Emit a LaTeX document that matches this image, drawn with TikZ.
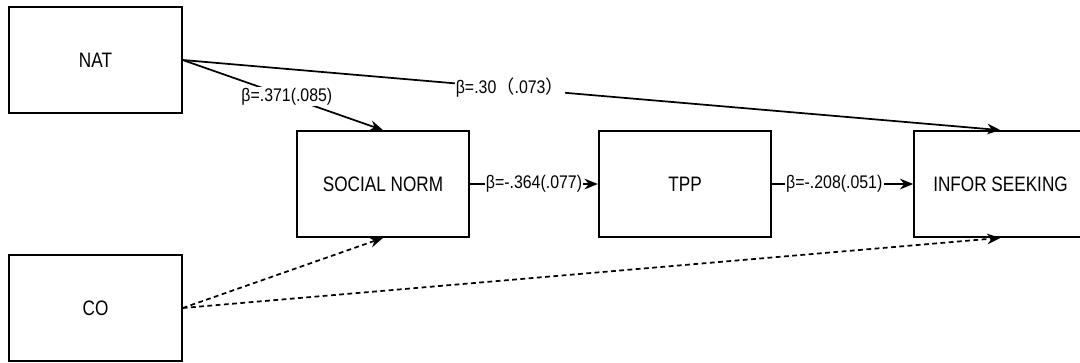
\documentclass[tikz,border=0pt]{standalone}
\usepackage{fontspec}
\setmainfont{Liberation Sans}
\newfontfamily\boxfont{Liberation Sans}[FakeStretch=0.82]
\newfontfamily\lblfont{Liberation Sans}[FakeStretch=0.87]
\newfontfamily\cjk{Noto Sans CJK SC}
\usetikzlibrary{arrows.meta}
\tikzset{
  var/.style={draw, line width=1.3pt, minimum width=129.5pt, minimum height=79.5pt,
    inner sep=0pt, font=\boxfont\fontsize{15.7}{18}\selectfont},
  path/.style={line width=1.3pt, -{Stealth[length=10pt,width=8pt]}},
  covar/.style={path, dash pattern=on 3.6pt off 2.6pt},
  coef/.style={fill=white, inner sep=1pt, font=\lblfont\fontsize{13.7}{15}\selectfont}
}
\begin{document}
\begin{tikzpicture}[x=0.75pt, y=-0.75pt]
  \clip (0,0) rectangle (1080,362);
  \fill[white] (0,0) rectangle (1080,362);

  \node[var] (nat) at (95.5,60) {NAT};
  \node[var] (co) at (95.5,308) {CO};
  \node[var] (sn) at (383,184) {SOCIAL NORM};
  \node[var] (tpp) at (685,184) {TPP};
  \node[var] (info) at (1000.5,184) {INFOR SEEKING};

  \draw[path] (nat.east) -- node[coef, pos=0.52] {β=.371(.085)} (sn.north);
  \draw[path] (nat.east) -- node[coef, pos=0.4] {β=.30{\cjk （}.073{\cjk ）}} (info.north);
  \draw[path] (sn.east) -- node[coef, pos=0.5] {β=-.364(.077)} (tpp.west);
  \draw[path] (tpp.east) -- node[coef, pos=0.44] {β=-.208(.051)} (info.west);
  \draw[covar] (co.east) -- (sn.south);
  \draw[covar] (co.east) -- (info.south);
\end{tikzpicture}
\end{document}
